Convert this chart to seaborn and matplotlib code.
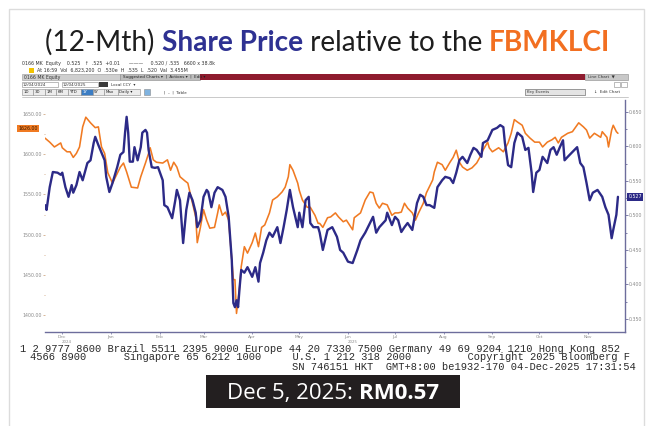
import numpy as np
import pandas as pd
import matplotlib
matplotlib.use("Agg")
import matplotlib.pyplot as plt
import matplotlib.transforms as mtransforms
from matplotlib.patches import Rectangle
import seaborn as sns

# ---- data (day offsets from the first trading day) ----
start = pd.Timestamp("2024-12-04")

# FBMKLCI, left axis
klci_days = [0, 3, 6, 10, 11, 14, 16, 18, 20, 22,
             24, 26, 29, 32, 34, 36, 38, 40, 43, 45,
             48, 50, 52, 55, 59, 61, 64, 66, 67, 69,
             71, 75, 78, 80, 82, 84, 86, 89, 91, 94,
             96, 97, 99, 101, 103, 105, 108, 110, 111, 113,
             115, 117, 118, 120, 121, 122, 124, 125, 127, 129,
             132, 134, 136, 138, 140, 143, 145, 148, 151, 153,
             155, 156, 158, 161, 162, 164, 167, 169, 172, 174,
             175, 177, 180, 182, 185, 187, 190, 192, 196, 197,
             201, 204, 207, 209, 211, 213, 215, 218, 221, 223,
             225, 227, 229, 231, 234, 236, 238, 241, 243, 247,
             248, 250, 253, 255, 258, 260, 262, 264, 266, 269,
             272, 275, 277, 279, 282, 283, 285, 289, 292, 295,
             297, 299, 301, 304, 306, 309, 312, 315, 317, 320,
             323, 325, 327, 329, 333, 336, 340, 343, 345, 347,
             350, 354, 355, 358, 359, 361, 362, 364, 365]
klci_close = [1620, 1615, 1609, 1614, 1608, 1603, 1603, 1596, 1601, 1609,
              1634, 1646, 1639, 1633, 1634, 1609, 1601, 1577, 1564, 1572,
              1584, 1589, 1578, 1559, 1558, 1572, 1589, 1601, 1608, 1593,
              1590, 1589, 1593, 1580, 1590, 1584, 1572, 1567, 1564, 1539,
              1522, 1490, 1509, 1531, 1518, 1508, 1509, 1527, 1537, 1524,
              1528, 1518, 1493, 1444, 1444, 1402, 1435, 1460, 1485, 1477,
              1490, 1502, 1485, 1509, 1512, 1527, 1543, 1547, 1553, 1559,
              1572, 1587, 1580, 1564, 1555, 1543, 1534, 1534, 1524, 1514,
              1514, 1509, 1521, 1522, 1527, 1522, 1516, 1518, 1506, 1521,
              1527, 1543, 1553, 1552, 1539, 1533, 1539, 1537, 1524, 1527,
              1527, 1528, 1539, 1533, 1527, 1518, 1527, 1539, 1552, 1568,
              1578, 1590, 1587, 1580, 1590, 1596, 1605, 1590, 1584, 1580,
              1583, 1589, 1596, 1605, 1615, 1608, 1603, 1608, 1603, 1614,
              1626, 1643, 1640, 1636, 1626, 1620, 1615, 1615, 1609, 1615,
              1618, 1621, 1614, 1621, 1626, 1628, 1639, 1634, 1630, 1620,
              1626, 1621, 1628, 1621, 1609, 1630, 1636, 1628, 1626]

# share price (RM), right axis
px_days = [0, 1, 3, 5, 8, 10, 11, 13, 15, 17,
           18, 20, 22, 24, 27, 29, 31, 32, 34, 36,
           38, 39, 41, 43, 46, 48, 50, 51, 52, 53,
           54, 56, 57, 59, 61, 62, 64, 65, 66, 68,
           70, 72, 75, 76, 78, 81, 83, 84, 86, 88,
           90, 92, 94, 96, 97, 99, 101, 103, 104, 106,
           108, 110, 113, 115, 117, 119, 120, 121, 122, 123,
           124, 125, 127, 129, 132, 134, 136, 137, 139, 141,
           143, 145, 148, 150, 152, 154, 156, 158, 161, 162,
           164, 166, 168, 169, 171, 174, 175, 177, 180, 183,
           186, 188, 190, 193, 196, 199, 201, 204, 207, 209,
           211, 213, 217, 218, 221, 223, 225, 227, 229, 231,
           234, 237, 239, 241, 243, 245, 248, 250, 253, 255,
           258, 260, 262, 264, 266, 269, 271, 273, 275, 278,
           279, 282, 283, 285, 288, 290, 292, 293, 295, 297,
           299, 301, 304, 306, 308, 310, 311, 313, 315, 317,
           320, 322, 324, 326, 328, 330, 331, 333, 336, 339,
           341, 343, 345, 347, 349, 352, 355, 357, 359, 361,
           362, 364, 365]
px_close = [0.515, 0.508, 0.541, 0.563, 0.562, 0.559, 0.562, 0.541, 0.527, 0.544,
            0.533, 0.544, 0.563, 0.551, 0.576, 0.580, 0.605, 0.614, 0.602, 0.591,
            0.580, 0.556, 0.534, 0.547, 0.570, 0.588, 0.592, 0.620, 0.643, 0.620,
            0.578, 0.578, 0.599, 0.580, 0.599, 0.620, 0.624, 0.620, 0.595, 0.570,
            0.569, 0.570, 0.551, 0.515, 0.512, 0.496, 0.522, 0.537, 0.522, 0.460,
            0.508, 0.533, 0.522, 0.504, 0.483, 0.493, 0.527, 0.537, 0.534, 0.512,
            0.533, 0.541, 0.537, 0.527, 0.498, 0.435, 0.373, 0.367, 0.377, 0.367,
            0.396, 0.421, 0.417, 0.425, 0.411, 0.425, 0.404, 0.431, 0.446, 0.464,
            0.475, 0.469, 0.483, 0.460, 0.483, 0.508, 0.537, 0.512, 0.483, 0.504,
            0.483, 0.522, 0.527, 0.489, 0.483, 0.483, 0.475, 0.450, 0.479, 0.483,
            0.469, 0.450, 0.446, 0.433, 0.431, 0.450, 0.464, 0.475, 0.489, 0.498,
            0.475, 0.483, 0.493, 0.504, 0.486, 0.498, 0.493, 0.476, 0.483, 0.489,
            0.479, 0.518, 0.530, 0.527, 0.515, 0.515, 0.511, 0.541, 0.551, 0.556,
            0.554, 0.547, 0.562, 0.580, 0.585, 0.576, 0.588, 0.598, 0.595, 0.585,
            0.605, 0.609, 0.614, 0.624, 0.627, 0.631, 0.628, 0.605, 0.573, 0.570,
            0.605, 0.620, 0.614, 0.595, 0.598, 0.562, 0.534, 0.562, 0.566, 0.585,
            0.576, 0.595, 0.599, 0.588, 0.599, 0.609, 0.580, 0.585, 0.592, 0.599,
            0.576, 0.570, 0.547, 0.522, 0.533, 0.537, 0.527, 0.512, 0.501, 0.467,
            0.479, 0.501, 0.527]

klci_ticks = [1400, 1450, 1500, 1550, 1600, 1650]
px_ticks = [0.35, 0.40, 0.45, 0.50, 0.55, 0.60, 0.65]
month_labels = ["Dec", "Jan", "Feb", "Mar", "Apr", "May", "Jun",
                "Jul", "Aug", "Sep", "Oct", "Nov"]
month_mid = ["2024-12-15", "2025-01-15", "2025-02-15", "2025-03-15",
             "2025-04-15", "2025-05-15", "2025-06-15", "2025-07-15",
             "2025-08-15", "2025-09-15", "2025-10-15", "2025-11-15"]
year_labels = ["2024", "2025"]
year_mid = ["2024-12-18", "2025-06-18"]

price_today = "RM0.57"
date_today = "Dec 5, 2025: "

ORANGE = "#f07a22"
NAVY = "#2c2a87"
AXIS = "#6d6d9c"

klci = pd.DataFrame({"date": start + pd.to_timedelta(klci_days, unit="D"),
                     "close": klci_close})
px = pd.DataFrame({"date": start + pd.to_timedelta(px_days, unit="D"),
                   "close": px_close})

sns.set_style("white")
plt.rcParams["font.family"] = ["DejaVu Sans"]

W, H = 653, 426
fig = plt.figure(figsize=(W / 100, H / 100), dpi=100)
fig.patch.set_facecolor("white")


def fx(x):
    return x / W


def fy(y):
    return 1 - y / H


def box(x0, y0, x1, y1, fc, ec="none", lw=0.5, z=1):
    fig.patches.append(Rectangle((fx(x0), fy(y1)), fx(x1) - fx(x0), fy(y0) - fy(y1),
                                 transform=fig.transFigure, fc=fc, ec=ec, lw=lw, zorder=z))


def small(x, y, s, size=3.6, color="#333333", **kw):
    fig.text(fx(x), fy(y), s, fontsize=size, color=color, va="center", ha="left", **kw)


# outer card
box(9, 9, 644, 440, "none", ec="#dcdcdc", lw=1.0, z=-5)

# ---- title with mixed styles ----
renderer = fig.canvas.get_renderer()
title_parts = [("(12-Mth) ", "normal", "#1e1e1e"),
               ("Share Price", "bold", "#2e3192"),
               (" relative to the ", "normal", "#1e1e1e"),
               ("FBMKLCI", "bold", "#f26f21")]


def run_text(parts, x0, y, size, family, center=None):
    texts = []
    widths = []
    for s, wgt, col in parts:
        t = fig.text(0, fy(y), s, fontsize=size, fontweight=wgt, color=col,
                     family=family, va="baseline", ha="left")
        texts.append(t)
        widths.append(t.get_window_extent(renderer=renderer).width)
    if center is not None:
        x0 = center - sum(widths) / 2
    x = x0
    for t, w in zip(texts, widths):
        t.set_x(fx(x))
        x += w


run_text(title_parts, 45, 51, 20.2, ["Lato", "DejaVu Sans"])

# ---- Bloomberg header strip ----
small(22, 63, "0166 MK  Equity    0.525   \u2191  .525  +0.01      \u2014\u2014\u2014     0.520 / .535   6600 x 38.8k", size=3.4)
box(29, 68, 34, 73, "#f2c300")
small(37, 70, "At 16:59  Vol  6,823,200  O  .530e  H  .535  L  .520  Val  3.455M", size=3.4)
box(22, 74, 120, 80, "#cfcfcf", ec="#9a9a9a", lw=0.4)
small(24, 77, "0166 MK Equity", size=3.3)
box(120, 74, 200, 80, "#bdbdbd", ec="#8a8a8a", lw=0.4)
small(123, 77, "Suggested Charts \u25be  |  Actions \u25be  |  Edit \u25be", size=3.0, color="#222222")
box(200, 74, 585, 80, "#8e1b2e")
box(585, 74, 628, 80, "#c8c8c8", ec="#8a8a8a", lw=0.4)
small(588, 77, "Line Chart  \u25bc", size=3.0)
box(22, 82, 58, 87, "white", ec="#888888", lw=0.4)
small(23, 84.5, "12/04/2024", size=3.0)
box(62, 82, 98, 87, "white", ec="#888888", lw=0.4)
small(63, 84.5, "12/04/2025", size=3.0)
box(99, 82, 108, 87, "#3a3a3a")
small(111, 84.5, "Local CCY  \u25be", size=3.0)
box(614, 82, 620, 87, "white", ec="#888888", lw=0.4)
box(621, 82, 627, 87, "white", ec="#888888", lw=0.4)
buttons = ["1D", "3D", "1M", "6M", "YTD", "1Y", "5Y", "Max", "Daily \u25be"]
bx = 22
for b in buttons:
    bw = 7 + 2.2 * len(b)
    box(bx, 89, bx + bw, 95, "#3b7dc4" if b == "1Y" else "#ececec", ec="#8a8a8a", lw=0.4)
    small(bx + 1.5, 92, b, size=2.9, color="white" if b == "1Y" else "#222222")
    bx += bw
box(bx + 4, 89, bx + 10, 95, "#7fb3e0", ec="#8a8a8a", lw=0.4)
small(bx + 24, 92, "|  \u2013  |  Table", size=2.9)
box(525, 89, 585, 95, "#e4e4e4", ec="#555555", lw=0.4)
small(527, 92, "Key Events", size=2.9)
small(594, 92, "\u2193  Edit Chart", size=2.9)
fig.lines.append(plt.Line2D([fx(22), fx(628)], [fy(97), fy(97)],
                            transform=fig.transFigure, color="#c0c0c0", lw=0.6))

# ---- chart ----
ax = fig.add_axes([fx(45), fy(332), fx(625) - fx(45), fy(100) - fy(332)])
ax.set_facecolor("none")
sns.lineplot(data=klci, x="date", y="close", ax=ax, color=ORANGE, lw=1.15)
ax2 = ax.twinx()
sns.lineplot(data=px, x="date", y="close", ax=ax2, color=NAVY, lw=1.7)

ax.set_xlim(start, start + pd.Timedelta(days=369.5))
ax.set_ylim(1378.9, 1667.4)
ax2.set_ylim(0.331, 0.6674)

for a in (ax, ax2):
    a.set_xlabel("")
    a.set_ylabel("")
    for s in a.spines.values():
        s.set_visible(False)
ax.spines["bottom"].set_visible(True)
ax.spines["bottom"].set_color(AXIS)
ax.spines["bottom"].set_linewidth(1.0)
ax2.spines["right"].set_visible(True)
ax2.spines["right"].set_color(AXIS)
ax2.spines["right"].set_linewidth(1.0)

ax.set_yticks(klci_ticks)
ax.set_yticklabels([f"{v:.2f}" for v in klci_ticks])
ax.set_yticks([v + 25 for v in klci_ticks[:-1]], minor=True)
ax.tick_params(axis="y", which="both", left=True, direction="out", length=1.5, width=0.5,
               color="#c89a70", pad=0.5, labelsize=3.4, labelcolor="#8a8a8a")
ax.tick_params(axis="y", which="minor", length=1.0)

ax2.set_yticks(px_ticks)
ax2.set_yticklabels([f"{v:.3f}" for v in px_ticks])
ax2.set_yticks([v + 0.025 for v in px_ticks[:-1]], minor=True)
ax2.tick_params(axis="y", which="both", right=True, direction="out", length=2, width=0.6,
                color=AXIS, pad=1, labelsize=3.4, labelcolor="#8a8a8a")
ax2.tick_params(axis="y", which="minor", length=1.2)

ax.set_xticks(pd.to_datetime(month_mid))
ax.set_xticklabels(month_labels)
ax.tick_params(axis="x", bottom=True, direction="out", length=1.5, width=0.5,
               color=AXIS, pad=0.6, labelsize=3.2, labelcolor="#8a8a8a")
xtrans = mtransforms.blended_transform_factory(ax.transData, ax.transAxes)
for lab, d in zip(year_labels, pd.to_datetime(year_mid)):
    ax.text(d, -0.036, lab, transform=xtrans, fontsize=2.8, color="#8a8a8a",
            ha="center", va="top")

# last-value tags on both axes
ltrans = mtransforms.blended_transform_factory(ax.transAxes, ax.transData)
ax.text(-0.012, klci_close[-1] + 6, f"{klci_close[-1]:.2f}", transform=ltrans,
        fontsize=3.4, color="#3a1a00", ha="right", va="center",
        bbox=dict(boxstyle="square,pad=0.25", fc=ORANGE, ec="none"))
rtrans = mtransforms.blended_transform_factory(ax2.transAxes, ax2.transData)
ax2.text(1.006, px_close[-1], f"{px_close[-1]:.3f}", transform=rtrans,
         fontsize=3.4, color="white", ha="left", va="center",
         bbox=dict(boxstyle="square,pad=0.3", fc=NAVY, ec="none"))

# ---- Bloomberg footer ----
mono = "Liberation Mono"
footer = [(20, 348.5, "1 2 9777 8600 Brazil 5511 2395 9000 Europe 44 20 7330 7500 Germany 49 69 9204 1210 Hong Kong 852"),
          (30, 357.5, "4566 8900      Singapore 65 6212 1000     U.S. 1 212 318 2000         Copyright 2025 Bloomberg F"),
          (292, 366.5, "SN 746151 HKT  GMT+8:00 be1932-170 04-Dec-2025 17:31:54")]
for x, y, s in footer:
    fig.text(fx(x), fy(y), s, family=mono, fontsize=7.5, color="#2a2a2a",
             va="center", ha="left")

# ---- price badge ----
box(206, 375, 460, 408, "#231f20")
run_text([(date_today, "normal", "white"), (price_today, "bold", "white")],
         0, 399, 16, ["Liberation Sans Narrow", "Open Sans", "DejaVu Sans"], center=333)

fig.savefig("out.png", dpi=100, facecolor="white")
